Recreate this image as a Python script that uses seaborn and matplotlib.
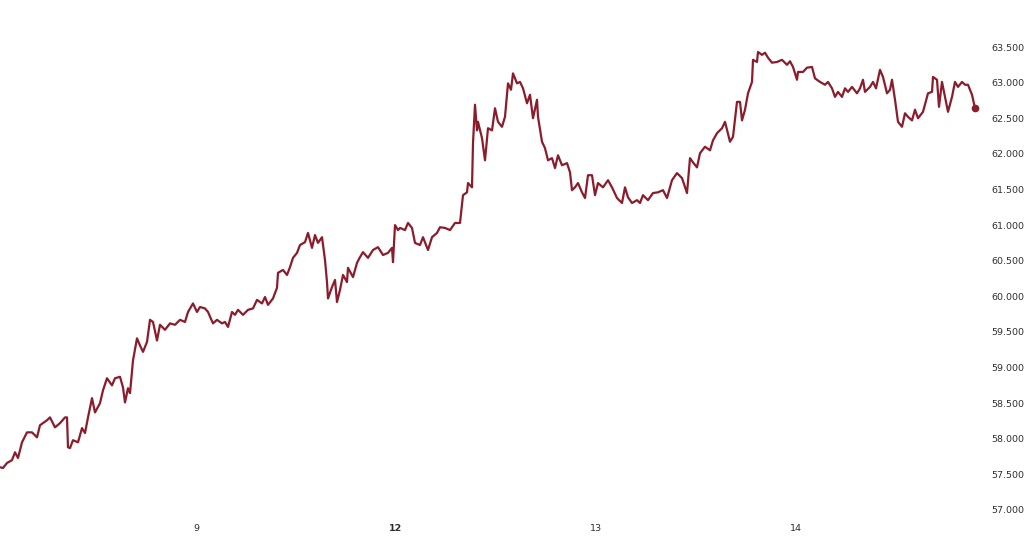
import matplotlib
matplotlib.use("Agg")
import matplotlib.pyplot as plt
import seaborn as sns
import pandas as pd

# Trading time in hours since start of day 8 (weekend compressed)
pix_x = [0, 3, 7, 12, 15, 18, 22, 27, 32, 37, 40, 47, 50, 55, 60, 65, 67, 68, 70, 73, 78, 82, 85, 88, 92, 95,
         100, 103, 107, 112, 115, 120, 123, 125, 128, 130, 133, 137, 140, 143, 147, 150, 153, 157, 160, 165,
         170, 175, 180, 185, 188, 193, 197, 200, 205, 208, 213, 217, 222, 225, 228, 232, 235, 238, 243, 248,
         253, 257, 262, 265, 268, 273, 277, 278, 283, 287, 290, 293, 297, 300, 305, 308, 312, 315, 318, 322,
         325, 327, 328, 332, 335, 337, 340, 343, 347, 348, 353, 357, 360, 363, 368, 373, 378, 383, 388, 392,
         393, 395, 398, 400, 405, 408, 412, 415, 420, 423, 428, 432, 437, 440, 445, 450, 455, 460, 463, 467,
         468, 472, 473, 475, 477, 478, 482, 485, 488, 492, 495, 498, 502, 505, 508, 511, 513, 517, 520, 523,
         527, 530, 533, 537, 538, 542, 545, 548, 552, 555, 558, 562, 567, 570, 572, 575, 578, 582, 585, 588,
         592, 595, 598, 603, 608, 612, 617, 622, 625, 628, 632, 637, 640, 643, 648, 653, 658, 663, 667, 672,
         677, 682, 687, 690, 693, 697, 700, 705, 710, 713, 717, 722, 725, 730, 733, 737, 740, 742, 745, 748,
         752, 753, 757, 758, 762, 765, 768, 772, 777, 782, 787, 790, 793, 797, 798, 803, 807, 812, 815, 820,
         825, 828, 832, 835, 838, 842, 845, 848, 852, 857, 860, 863, 865, 870, 873, 876, 880, 883, 887, 890,
         892, 895, 898, 902, 905, 908, 912, 915, 918, 923, 928, 932, 933, 937, 939, 942, 945, 948, 952, 955,
         958, 962, 965, 968, 972, 975]
hours = [round((p + 4) * 0.12, 2) for p in pix_x]

price = [57.60, 57.59, 57.66, 57.70, 57.81, 57.73, 57.95, 58.09, 58.09, 58.02, 58.19, 58.26, 58.30, 58.16,
         58.22, 58.30, 58.30, 57.88, 57.87, 57.98, 57.95, 58.15, 58.08, 58.30, 58.57, 58.37, 58.50, 58.68,
         58.85, 58.75, 58.85, 58.87, 58.72, 58.51, 58.71, 58.64, 59.10, 59.41, 59.31, 59.22, 59.36, 59.67,
         59.64, 59.38, 59.60, 59.53, 59.62, 59.60, 59.67, 59.64, 59.78, 59.90, 59.78, 59.85, 59.83, 59.78,
         59.62, 59.67, 59.62, 59.64, 59.57, 59.78, 59.74, 59.81, 59.74, 59.81, 59.83, 59.95, 59.90, 59.99,
         59.88, 59.97, 60.12, 60.33, 60.37, 60.30, 60.41, 60.54, 60.61, 60.72, 60.76, 60.89, 60.68, 60.86,
         60.75, 60.83, 60.51, 60.20, 59.97, 60.13, 60.23, 59.92, 60.09, 60.30, 60.20, 60.40, 60.27, 60.47,
         60.55, 60.62, 60.54, 60.65, 60.69, 60.58, 60.61, 60.68, 60.48, 61.00, 60.93, 60.96, 60.93, 61.03,
         60.96, 60.75, 60.72, 60.83, 60.65, 60.83, 60.89, 60.97, 60.96, 60.93, 61.03, 61.03, 61.42, 61.46,
         61.59, 61.53, 62.15, 62.69, 62.33, 62.45, 62.22, 61.91, 62.36, 62.33, 62.64, 62.45, 62.38, 62.52,
         62.99, 62.90, 63.13, 62.99, 63.01, 62.92, 62.71, 62.83, 62.50, 62.76, 62.52, 62.17, 62.08, 61.91,
         61.94, 61.80, 61.98, 61.84, 61.87, 61.74, 61.49, 61.53, 61.59, 61.46, 61.38, 61.70, 61.70, 61.42,
         61.59, 61.53, 61.63, 61.53, 61.38, 61.31, 61.53, 61.39, 61.31, 61.35, 61.31, 61.42, 61.35, 61.45,
         61.46, 61.49, 61.38, 61.63, 61.73, 61.66, 61.45, 61.94, 61.88, 61.81, 62.01, 62.10, 62.05, 62.19,
         62.29, 62.36, 62.45, 62.17, 62.24, 62.73, 62.73, 62.47, 62.62, 62.85, 63.01, 63.32, 63.29, 63.43,
         63.39, 63.42, 63.35, 63.28, 63.29, 63.32, 63.25, 63.30, 63.22, 63.04, 63.15, 63.15, 63.21, 63.22,
         63.06, 63.01, 62.97, 63.01, 62.92, 62.80, 62.87, 62.80, 62.92, 62.87, 62.94, 62.85, 62.92, 63.04,
         62.87, 62.94, 63.01, 62.92, 63.18, 63.08, 62.85, 62.90, 63.04, 62.76, 62.45, 62.38, 62.57, 62.52,
         62.47, 62.62, 62.50, 62.59, 62.85, 62.87, 63.08, 63.04, 62.66, 63.01, 62.80, 62.59, 62.80, 63.01,
         62.94, 63.01, 62.97, 62.97, 62.83, 62.64]

x_tick_pos = [24, 48, 72, 96]
x_tick_labels = ["9", "12", "13", "14"]
y_ticks = [57.0, 57.5, 58.0, 58.5, 59.0, 59.5, 60.0, 60.5, 61.0, 61.5, 62.0, 62.5, 63.0, 63.5]
y_tick_labels = [f"{v:.3f}" for v in y_ticks]

df = pd.DataFrame({"hours": hours, "price": price})

sns.set_style("white")
plt.rcParams["font.family"] = ["DejaVu Sans"]

line_color = "#8B1C2C"
text_color = "#2E2E2E"

fig = plt.figure(figsize=(10.24, 5.37), dpi=100)
ax = fig.add_axes([0.0, 17 / 537, 982 / 1024, 510 / 537])

sns.lineplot(data=df, x="hours", y="price", ax=ax, color=line_color, linewidth=1.6,
             estimator=None, sort=False)
ax.plot([df["hours"].iloc[-1]], [df["price"].iloc[-1]], "o", color=line_color, markersize=4.5)

ax.set_xlim((0 + 4) * 0.12, (982 + 4) * 0.12)
ax.set_ylim(57.0 - 10 / 71.2, 63.5 + 37 / 71.2)

for s in ax.spines.values():
    s.set_visible(False)

ax.yaxis.tick_right()
ax.set_yticks(y_ticks)
ax.set_yticklabels(y_tick_labels)
ax.set_xticks(x_tick_pos)
ax.set_xticklabels(x_tick_labels)
ax.tick_params(axis="both", length=0, labelsize=6.8, colors=text_color)
ax.tick_params(axis="y", pad=7)
ax.tick_params(axis="x", pad=3)
for lbl in ax.get_xticklabels():
    if lbl.get_text() == "12":
        lbl.set_fontweight("bold")

ax.set_xlabel("")
ax.set_ylabel("")
ax.grid(False)

fig.savefig("out.png", dpi=100)
